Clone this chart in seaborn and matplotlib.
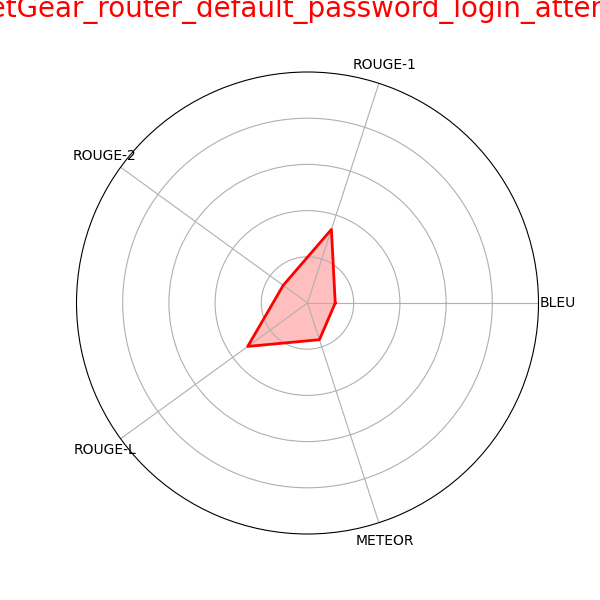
import numpy as np
import pandas as pd
import matplotlib
matplotlib.use("Agg")
import matplotlib.pyplot as plt
import seaborn as sns

title = "NetGear_router_default_password_login_attempt"
metrics = ["BLEU", "ROUGE-1", "ROUGE-2", "ROUGE-L", "METEOR"]
scores = [0.12, 0.335, 0.13, 0.32, 0.167]

n = len(metrics)
angles = np.linspace(0, 2 * np.pi, n, endpoint=False)
theta_closed = np.concatenate([angles, angles[:1]])
r_closed = np.concatenate([scores, scores[:1]])
df = pd.DataFrame({"theta": theta_closed, "r": r_closed, "order": np.arange(n + 1)})

fig = plt.figure(figsize=(6, 6), dpi=100)
ax = fig.add_subplot(111, polar=True)

sns.lineplot(data=df, x="theta", y="r", sort=False, color="red", linewidth=2, ax=ax, estimator=None)
ax.fill(df["theta"], df["r"], color="red", alpha=0.25)

ax.set_xticks(angles)
ax.set_xticklabels(metrics)
ax.set_ylim(0, 1)
ax.set_yticks([0.2, 0.4, 0.6, 0.8])
ax.set_yticklabels([])
ax.set_xlabel("")
ax.set_ylabel("")
ax.set_title(title, color="red", fontsize=20, y=1.1)

fig.savefig("out.png", dpi=100)
